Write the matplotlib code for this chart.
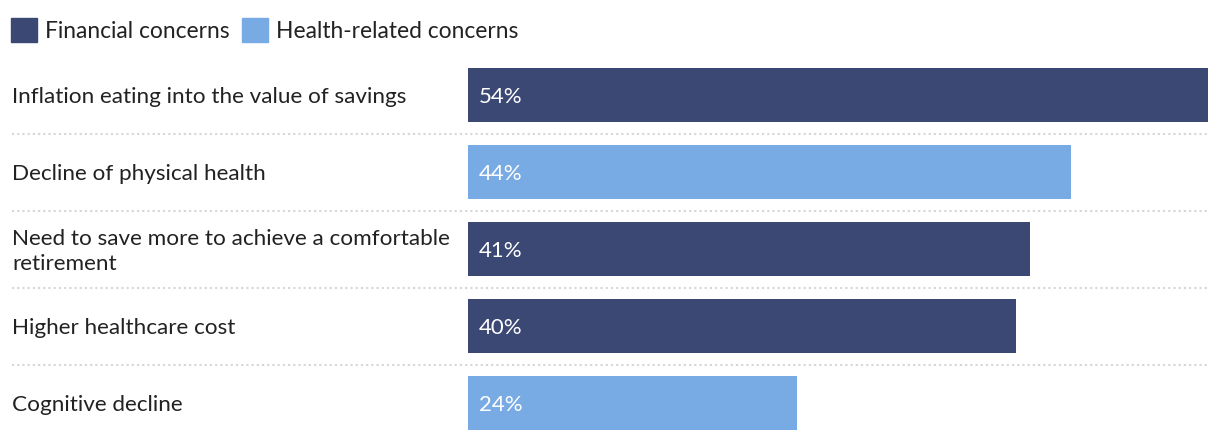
import matplotlib.pyplot as plt
import matplotlib.transforms as mtransforms
from matplotlib.patches import Patch

# data
labels = ['Inflation eating into the value of savings',
          'Decline of physical health',
          'Need to save more to achieve a comfortable\nretirement',
          'Higher healthcare cost',
          'Cognitive decline']
values = [54, 44, 41, 40, 24]
groups = ['Financial', 'Health', 'Financial', 'Financial', 'Health']
legend_names = ['Financial concerns', 'Health-related concerns']

colors = {'Financial': '#3b4874', 'Health': '#78aae4'}

plt.rcParams['font.family'] = ['Lato', 'DejaVu Sans']

W, H = 1220, 442
fig = plt.figure(figsize=(W / 100, H / 100), dpi=100)
# axes: bars from x=468 to 1208 px, rows from y=56.5 to 441.5 px
ax = fig.add_axes([468 / W, 1 - 441.5 / H, (1208 - 468) / W, 385 / H])
ax.set_xlim(0, max(values))
ax.set_ylim(len(values) - 0.5, -0.5)
ax.axis('off')

ypos = list(range(len(values)))
ax.barh(ypos, values, height=0.70, color=[colors[g] for g in groups])

trans = mtransforms.blended_transform_factory(fig.transFigure, ax.transData)
for y, lab, v in zip(ypos, labels, values):
    ax.text(12 / W, y + 0.03, lab, transform=trans, ha='left', va='center',
            fontsize=16.2, color='#222222', linespacing=1.35)
    ax.text(0.8, y + 0.02, f'{v}%', ha='left', va='center', fontsize=16, color='white')

# dotted separators
for y in ypos[:-1]:
    ax.plot([12 / W, 1208 / W], [y + 0.5, y + 0.5], transform=trans,
            color='#d6d6d6', lw=1.5, ls=(0, (1, 1.5)), clip_on=False)

# legend
handles = [Patch(color=colors['Financial']), Patch(color=colors['Health'])]
fig.legend(handles, legend_names, loc='upper left', bbox_to_anchor=(2 / W, 1 - 9 / H),
           ncol=2, frameon=False, fontsize=16.4, handlelength=1.14, handleheight=1.22,
           handletextpad=0.35, columnspacing=0.55, borderaxespad=0, labelcolor='#222222')

fig.savefig('out.png', dpi=100)
